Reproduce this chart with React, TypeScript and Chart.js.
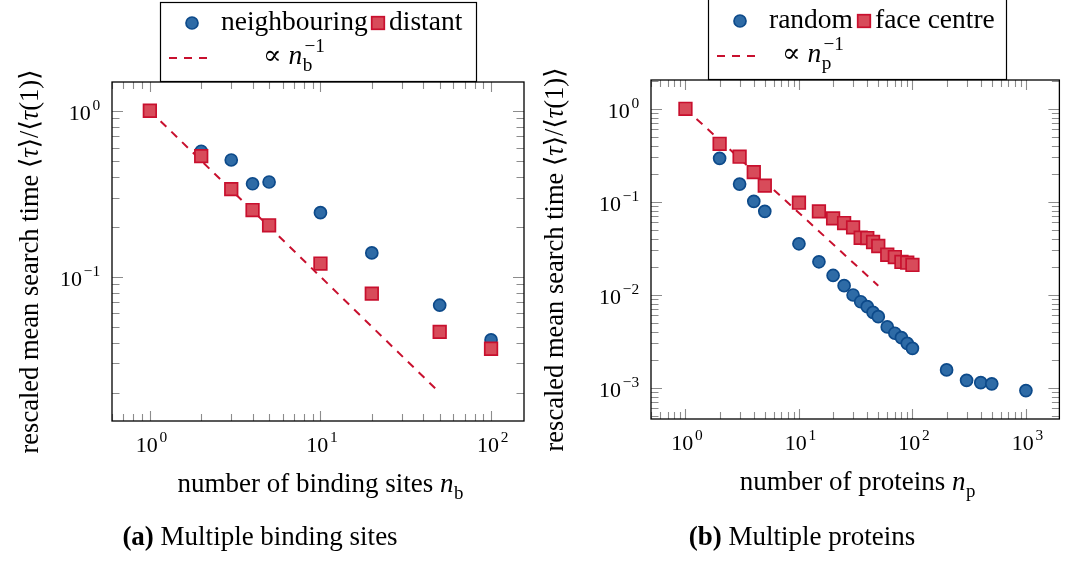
import React, { useEffect, useRef } from "react";
import { Chart, registerables } from "chart.js";

Chart.register(...registerables);

const FONT = "'Liberation Serif', 'DejaVu Serif', serif";

// ---------- Panel (a): multiple binding sites ----------
const sitesNeighbouring = [2, 3, 4, 5, 10, 20, 50, 100];
const timeNeighbouring = [0.57, 0.505, 0.363, 0.372, 0.243, 0.139, 0.0673, 0.0416];
const sitesDistant = [1, 2, 3, 4, 5, 10, 20, 50, 100];
const timeDistant = [1.0, 0.533, 0.337, 0.252, 0.204, 0.12, 0.079, 0.0465, 0.0368];
const guideSitesX = [1, 50];
const guideSitesY = [1, 0.02];

// ---------- Panel (b): multiple proteins ----------
const proteinsRandom = [2, 3, 4, 5, 10, 15, 20, 25, 30, 35, 40, 45, 50, 60, 70, 80, 90, 100, 200, 300, 400, 500, 1000];
const timeRandom = [
  0.293, 0.155, 0.101, 0.0788, 0.0353, 0.0226, 0.0161, 0.0125, 0.00993, 0.0084, 0.00743, 0.00645,
  0.0058, 0.0045, 0.00385, 0.00345, 0.003, 0.00265, 0.00155, 0.0012, 0.00113, 0.0011, 0.00093,
];
const proteinsFace = [1, 2, 3, 4, 5, 10, 15, 20, 25, 30, 35, 40, 45, 50, 60, 70, 80, 90, 100];
const timeFace = [
  1.0, 0.42, 0.305, 0.208, 0.149, 0.0976, 0.0788, 0.0663, 0.059, 0.053, 0.041, 0.0407, 0.0369,
  0.0334, 0.0269, 0.0254, 0.0225, 0.0221, 0.0209,
];
const guideProteinsX = [1, 50];
const guideProteinsY = [1, 0.0125];

const BLUE_FILL = "#2e6ba6";
const BLUE_EDGE = "#0d4a8a";
const RED_FILL = "#d84b5a";
const RED_EDGE = "#c8102e";
const GUIDE = "#c8102e";

const decades = (min: number, max: number) => {
  const out: number[] = [];
  for (let e = Math.ceil(Math.log10(min) - 1e-9); e <= Math.floor(Math.log10(max) + 1e-9); e++) out.push(Math.pow(10, e));
  return out;
};
const logGrid = (min: number, max: number) => {
  const out: { v: number; major: boolean }[] = [];
  for (let e = Math.floor(Math.log10(min)) - 1; e <= Math.ceil(Math.log10(max)); e++) {
    for (let k = 1; k <= 9; k++) {
      const v = k * Math.pow(10, e);
      if (v >= min * 0.9999 && v <= max * 1.0001) out.push({ v, major: k === 1 });
    }
  }
  return out;
};
const exponentText = (v: number) => {
  const e = Math.round(Math.log10(v));
  return (e < 0 ? "−" : "") + String(Math.abs(e));
};

type Part = { t?: string; it?: boolean; bold?: boolean; sub?: string; sup?: string };
const font = (size: number, it = false, bold = false) =>
  `${it ? "italic " : ""}${bold ? "bold " : ""}${size}px ${FONT}`;

function partsWidth(ctx: CanvasRenderingContext2D, parts: Part[], size: number) {
  let w = 0;
  for (const p of parts) {
    if (p.sub !== undefined || p.sup !== undefined) {
      ctx.font = font(size * 0.7);
      const a = p.sub ? ctx.measureText(p.sub).width + size * 0.02 : 0;
      const b = p.sup ? ctx.measureText(p.sup).width + size * 0.08 : 0;
      w += Math.max(a, b) + size * 0.04;
    } else {
      ctx.font = font(size, p.it, p.bold);
      w += ctx.measureText(p.t || "").width;
    }
  }
  return w;
}

function drawParts(
  ctx: CanvasRenderingContext2D,
  parts: Part[],
  x: number,
  y: number,
  size: number,
  align: "left" | "center" | "right"
) {
  const w = partsWidth(ctx, parts, size);
  let cx = align === "center" ? x - w / 2 : align === "right" ? x - w : x;
  ctx.textAlign = "left";
  ctx.textBaseline = "alphabetic";
  ctx.fillStyle = "#000";
  for (const p of parts) {
    if (p.sub !== undefined || p.sup !== undefined) {
      ctx.font = font(size * 0.7);
      let a = 0;
      let b = 0;
      if (p.sub) {
        ctx.fillText(p.sub, cx + size * 0.02, y + size * 0.27);
        a = ctx.measureText(p.sub).width + size * 0.02;
      }
      if (p.sup) {
        ctx.fillText(p.sup, cx + size * 0.08, y - size * 0.45);
        b = ctx.measureText(p.sup).width + size * 0.08;
      }
      cx += Math.max(a, b) + size * 0.04;
    } else {
      ctx.font = font(size, p.it, p.bold);
      ctx.fillText(p.t || "", cx, y);
      cx += ctx.measureText(p.t || "").width;
    }
  }
}

const CIRCLE_R = 6;
const SQUARE_HALF = 6.3;

function drawCircle(ctx: CanvasRenderingContext2D, x: number, y: number) {
  ctx.beginPath();
  ctx.arc(x, y, CIRCLE_R, 0, Math.PI * 2);
  ctx.fillStyle = BLUE_FILL;
  ctx.fill();
  ctx.lineWidth = 1.7;
  ctx.strokeStyle = BLUE_EDGE;
  ctx.stroke();
}
function drawSquare(ctx: CanvasRenderingContext2D, x: number, y: number) {
  const h = SQUARE_HALF;
  ctx.fillStyle = RED_FILL;
  ctx.fillRect(x - h, y - h, 2 * h, 2 * h);
  ctx.lineWidth = 1.7;
  ctx.strokeStyle = RED_EDGE;
  ctx.strokeRect(x - h, y - h, 2 * h, 2 * h);
}

type LegendSpec = {
  box: [number, number, number, number];
  row1: number;
  circleX: number;
  label1: string;
  label1X: number;
  squareX: number;
  label2: string;
  label2X: number;
  row2: number;
  dash: [number, number];
  formulaX: number;
  sub: string;
};

type PanelSpec = {
  area: { left: number; top: number; right: number; bottom: number };
  xRange: [number, number];
  yRange: [number, number];
  circleX: number[];
  circleY: number[];
  squareX: number[];
  squareY: number[];
  guideX: number[];
  guideY: number[];
  legend: LegendSpec;
  xTitle: Part[];
  xTitleY: number;
  yTitleX: number;
  caption: Part[];
  captionX: number;
};

const Y_TITLE: Part[] = [
  { t: "rescaled mean search time ⟨" },
  { t: "τ", it: true },
  { t: "⟩/⟨" },
  { t: "τ", it: true },
  { t: "(1)⟩" },
];

const TEXT = 27;
const LEGEND_TEXT = 27.5;
const TICK = 22;

function decorPlugin(spec: PanelSpec) {
  return {
    id: "decor",
    afterDraw(chart: any) {
      const ctx: CanvasRenderingContext2D = chart.ctx;
      const { left, right, top, bottom } = chart.chartArea;
      const xs = chart.scales.x;
      const ys = chart.scales.y;
      ctx.save();
      // inward tick marks on all four sides
      ctx.strokeStyle = "#8c8c8c";
      ctx.lineWidth = 1.1;
      ctx.beginPath();
      for (const g of logGrid(xs.min, xs.max)) {
        const px = Math.round(xs.getPixelForValue(g.v)) + 0.5;
        const len = g.major ? 10 : 7;
        ctx.moveTo(px, bottom);
        ctx.lineTo(px, bottom - len);
        ctx.moveTo(px, top);
        ctx.lineTo(px, top + len);
      }
      for (const g of logGrid(ys.min, ys.max)) {
        const py = Math.round(ys.getPixelForValue(g.v)) + 0.5;
        const len = g.major ? 11 : 7.5;
        ctx.moveTo(left, py);
        ctx.lineTo(left + len, py);
        ctx.moveTo(right, py);
        ctx.lineTo(right - len, py);
      }
      ctx.stroke();
      // frame
      ctx.strokeStyle = "#000";
      ctx.lineWidth = 1.3;
      ctx.strokeRect(left, top, right - left, bottom - top);

      // tick labels (10^k) at the scales' own tick positions
      for (const t of xs.ticks) {
        const px = xs.getPixelForValue(t.value);
        drawParts(ctx, [{ t: "10" }, { sup: exponentText(t.value) }], px + 2, bottom + 31, TICK, "center");
      }
      for (const t of ys.ticks) {
        const py = ys.getPixelForValue(t.value);
        drawParts(ctx, [{ t: "10" }, { sup: exponentText(t.value) }], left - 11, py + 9, TICK, "right");
      }

      // axis titles
      drawParts(ctx, spec.xTitle, (left + right) / 2 + 3, spec.xTitleY, TEXT, "center");
      ctx.save();
      ctx.translate(spec.yTitleX, (top + bottom) / 2 + 10);
      ctx.rotate(-Math.PI / 2);
      drawParts(ctx, Y_TITLE, 0, 0, 26.5, "center");
      ctx.restore();

      // caption
      drawParts(ctx, spec.caption, spec.captionX, 545, TEXT, "center");

      // legend
      const L = spec.legend;
      ctx.fillStyle = "#fff";
      ctx.fillRect(L.box[0], L.box[1], L.box[2], L.box[3]);
      ctx.strokeStyle = "#000";
      ctx.lineWidth = 1.2;
      ctx.strokeRect(L.box[0] + 0.5, L.box[1] + 0.5, L.box[2], L.box[3]);
      drawCircle(ctx, L.circleX, L.row1);
      drawSquare(ctx, L.squareX, L.row1);
      drawParts(ctx, [{ t: L.label1 }], L.label1X, L.row1 + 7, LEGEND_TEXT, "left");
      drawParts(ctx, [{ t: L.label2 }], L.label2X, L.row1 + 7, LEGEND_TEXT, "left");
      ctx.strokeStyle = GUIDE;
      ctx.lineWidth = 2;
      ctx.setLineDash([8, 7]);
      ctx.beginPath();
      ctx.moveTo(L.dash[0], L.row2);
      ctx.lineTo(L.dash[1], L.row2);
      ctx.stroke();
      ctx.setLineDash([]);
      drawParts(
        ctx,
        [{ t: "∝ " }, { t: "n", it: true }, { sub: L.sub, sup: "−1" }],
        L.formulaX,
        L.row2 + 6,
        LEGEND_TEXT,
        "left"
      );
      ctx.restore();
    },
  };
}

function makeChart(canvas: HTMLCanvasElement, spec: PanelSpec) {
  const W = canvas.width;
  const H = canvas.height;
  const pts = (xs: number[], ys: number[]) => xs.map((x, i) => ({ x, y: ys[i] }));
  return new Chart(canvas, {
    type: "scatter",
    data: {
      datasets: [
        {
          label: "guide",
          data: pts(spec.guideX, spec.guideY),
          showLine: true,
          borderColor: GUIDE,
          borderWidth: 2,
          borderDash: [8, 7],
          pointRadius: 0,
          order: 3,
        },
        {
          label: "circles",
          data: pts(spec.circleX, spec.circleY),
          pointStyle: "circle",
          pointRadius: CIRCLE_R,
          backgroundColor: BLUE_FILL,
          borderColor: BLUE_EDGE,
          borderWidth: 1.7,
          order: 2,
        },
        {
          label: "squares",
          data: pts(spec.squareX, spec.squareY),
          pointStyle: "rect",
          pointRadius: SQUARE_HALF * Math.SQRT2,
          backgroundColor: RED_FILL,
          borderColor: RED_EDGE,
          borderWidth: 1.7,
          order: 1,
        },
      ],
    },
    options: {
      animation: false,
      responsive: false,
      devicePixelRatio: 1,
      events: [],
      layout: {
        padding: { left: 0, top: spec.area.top, right: W - spec.area.right, bottom: 0 },
      },
      plugins: { legend: { display: false }, tooltip: { enabled: false } },
      scales: {
        x: {
          type: "logarithmic",
          min: spec.xRange[0],
          max: spec.xRange[1],
          grid: { display: false, drawTicks: false },
          border: { display: false },
          ticks: { display: false, autoSkip: false },
          afterBuildTicks: (s: any) => {
            s.ticks = decades(s.min, s.max).map((value) => ({ value }));
          },
          afterFit: (s: any) => {
            s.height = H - spec.area.bottom;
          },
        },
        y: {
          type: "logarithmic",
          min: spec.yRange[0],
          max: spec.yRange[1],
          grid: { display: false, drawTicks: false },
          border: { display: false },
          ticks: { display: false, autoSkip: false },
          afterBuildTicks: (s: any) => {
            s.ticks = decades(s.min, s.max).map((value) => ({ value }));
          },
          afterFit: (s: any) => {
            s.width = spec.area.left;
          },
        },
      },
    } as any,
    plugins: [decorPlugin(spec)],
  });
}

const panelA: PanelSpec = {
  area: { left: 112, top: 82, right: 524, bottom: 421 },
  xRange: [0.63, 156],
  yRange: [0.0135, 1.49],
  circleX: sitesNeighbouring,
  circleY: timeNeighbouring,
  squareX: sitesDistant,
  squareY: timeDistant,
  guideX: guideSitesX,
  guideY: guideSitesY,
  legend: {
    box: [160, 2, 316, 79],
    row1: 23,
    circleX: 192,
    label1: "neighbouring",
    label1X: 221,
    squareX: 378,
    label2: "distant",
    label2X: 389,
    row2: 58,
    dash: [169, 210],
    formulaX: 263,
    sub: "b",
  },
  xTitle: [{ t: "number of binding sites " }, { t: "n", it: true }, { sub: "b" }],
  xTitleY: 492,
  yTitleX: 38,
  caption: [{ t: "(a)", bold: true }, { t: " Multiple binding sites" }],
  captionX: 260,
};

const panelB: PanelSpec = {
  area: { left: 116, top: 80, right: 528, bottom: 419 },
  xRange: [0.497, 1972],
  yRange: [0.00046, 2.04],
  circleX: proteinsRandom,
  circleY: timeRandom,
  squareX: proteinsFace,
  squareY: timeFace,
  guideX: guideProteinsX,
  guideY: guideProteinsY,
  legend: {
    box: [173, -2, 298, 81],
    row1: 21,
    circleX: 205,
    label1: "random",
    label1X: 234,
    squareX: 329,
    label2: "face centre",
    label2X: 340,
    row2: 56,
    dash: [182, 223],
    formulaX: 247,
    sub: "p",
  },
  xTitle: [{ t: "number of proteins " }, { t: "n", it: true }, { sub: "p" }],
  xTitleY: 490,
  yTitleX: 28,
  caption: [{ t: "(b)", bold: true }, { t: " Multiple proteins" }],
  captionX: 267,
};

export default function App() {
  const refA = useRef<HTMLCanvasElement | null>(null);
  const refB = useRef<HTMLCanvasElement | null>(null);
  useEffect(() => {
    const a = makeChart(refA.current!, panelA);
    const b = makeChart(refB.current!, panelB);
    return () => {
      a.destroy();
      b.destroy();
    };
  }, []);
  return (
    <div style={{ position: "fixed", left: 0, top: 0, width: 1070, height: 561, background: "#fff" }}>
      <canvas ref={refA} width={535} height={561} style={{ position: "absolute", left: 0, top: 0 }} />
      <canvas ref={refB} width={535} height={561} style={{ position: "absolute", left: 535, top: 0 }} />
    </div>
  );
}
